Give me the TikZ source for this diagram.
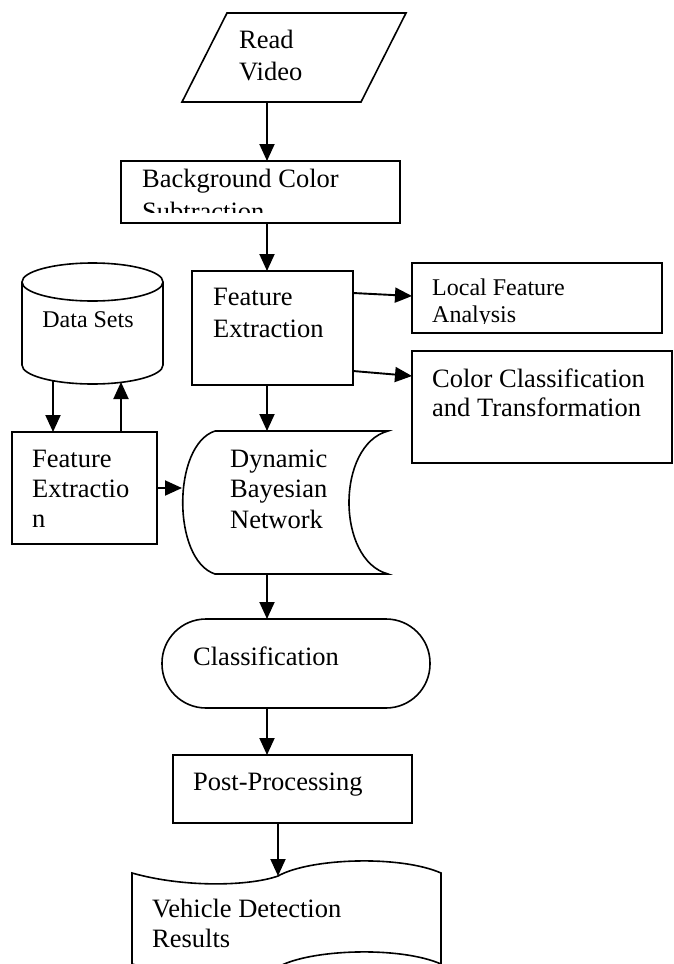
\documentclass[tikz,border=0pt]{standalone}
\usepackage{fontspec}
\setmainfont{Liberation Serif}
\usetikzlibrary{arrows.meta,calc}

\begin{document}
\begin{tikzpicture}[x=1pt,y=-1pt,
        outline/.style={line width=1.6pt},
        arr/.style={line width=1.9pt,-{Triangle[length=17pt,width=15pt]}},
        lbl/.style={anchor=base west,inner sep=0pt,font=\fontsize{26.5}{32}\selectfont},
        smalllbl/.style={anchor=base west,inner sep=0pt,font=\fontsize{24}{27}\selectfont}]
        \useasboundingbox (0,0) rectangle (674,964);
        \clip (0,0) rectangle (674,964);
        \coordinate (RV1) at (182,102); \coordinate (RV2) at (361,102);
        \coordinate (RV3) at (406,13); \coordinate (RV4) at (227,13);
        \draw[outline] (RV1) -- (RV2) -- (RV3) -- (RV4) -- cycle;
        \node[lbl] (readA) at (239,48) {Read};
        \node[lbl] (readB) at (239,80) {Video};
        \coordinate (RVout) at (267,102);
        \coordinate (BG1) at (121,161); \coordinate (BG2) at (400,223);
        \draw[outline] (BG1) rectangle (BG2);
        \node[lbl] (bgA) at (142,187) {Background Color};
        \begin{scope}
            \clip (121,161) rectangle (400,212);
            \node[lbl] (bgB) at (142,220) {Subtraction};
        \end{scope}
        \coordinate (BGin) at (267,161); \coordinate (BGout) at (267,223);
        \coordinate (FE1) at (192,271); \coordinate (FE2) at (353,385);
        \draw[outline] (FE1) rectangle (FE2);
        \node[lbl] (feA) at (213,305) {Feature};
        \node[lbl] (feB) at (213,337) {Extraction};
        \coordinate (FEin) at (267,271); \coordinate (FEout) at (267,385);
        \coordinate (FEr1) at (353,293); \coordinate (FEr2) at (353,371);
        \coordinate (LF1) at (412,263); \coordinate (LF2) at (662,333);
        \draw[outline] (LF1) rectangle (LF2);
        \node[smalllbl] (lfA) at (432,295) {Local Feature};
        \begin{scope}
            \clip (412,263) rectangle (662,323);
            \node[smalllbl] (lfB) at (432,322) {Analysis};
        \end{scope}
        \coordinate (LFin) at (412,296);
        \coordinate (CC1) at (412,351); \coordinate (CC2) at (672,463);
        \draw[outline] (CC1) rectangle (CC2);
        \node[lbl] (ccA) at (432,387) {Color Classification};
        \node[lbl] (ccB) at (432,416) {and Transformation};
        \coordinate (CCin) at (412,376);
        \draw[outline] (22,282) -- (22,365) arc (180:0:70.5 and 19) -- (163,282);
        \draw[outline] (92.5,282) ellipse (70.5 and 19);
        \node[smalllbl,anchor=base] (ds) at (88,327) {Data Sets};
        \coordinate (DSout) at (53,381); \coordinate (DSin) at (121,382);
        \coordinate (LE1) at (12,432); \coordinate (LE2) at (157,544);
        \draw[outline] (LE1) rectangle (LE2);
        \node[lbl] (leA) at (32,467) {Feature};
        \node[lbl] (leB) at (32,497) {Extractio};
        \node[lbl] (leC) at (32,527) {n};
        \coordinate (LEin) at (53,432); \coordinate (LEout) at (121,432);
        \coordinate (LEr) at (157,488);
        \coordinate (DB1) at (215,431); \coordinate (DB2) at (388,431);
        \coordinate (DB3) at (388,574); \coordinate (DB4) at (215,574);
        \draw[outline] (DB1) -- (DB2) .. controls (336,445) and (336,560) .. (DB3)
            -- (DB4) .. controls (172,560) and (172,445) .. (DB1);
        \node[lbl] (dbA) at (230,467) {Dynamic};
        \node[lbl] (dbB) at (230,497) {Bayesian};
        \node[lbl] (dbC) at (230,528) {Network};
        \coordinate (DBin) at (267,431); \coordinate (DBout) at (267,574);
        \coordinate (DBl) at (182,488);
        \draw[outline,rounded corners=44pt] (162,619) rectangle (430,708);
        \node[lbl] (cl) at (193,665) {Classification};
        \coordinate (CLin) at (267,619); \coordinate (CLout) at (267,708);
        \draw[outline] (173,755) rectangle (412,823);
        \node[lbl] (pp) at (193,790) {Post-Processing};
        \coordinate (PPin) at (267,755); \coordinate (PPout) at (278,823);
        \coordinate (VD1) at (132,873); \coordinate (VD2) at (278,876); \coordinate (VD3) at (441,873);
        \draw[outline] (VD1) .. controls (185,888) and (250,886) .. (VD2)
            .. controls (310,858) and (400,855) .. (VD3) -- (441,964)
            .. controls (400,946) and (310,949) .. (278,967)
            .. controls (250,977) and (185,979) .. (132,964) -- cycle;
        \node[lbl] (vdA) at (152,917) {Vehicle Detection};
        \node[lbl] (vdB) at (152,947) {Results};
        \draw[arr] (RVout) -- (BGin);
        \draw[arr] (BGout) -- (FEin);
        \draw[arr] (FEr1) -- (LFin);
        \draw[arr] (FEr2) -- (CCin);
        \draw[arr] (FEout) -- (DBin);
        \draw[arr] (DSout) -- (LEin);
        \draw[arr] (LEout) -- (DSin);
        \draw[arr] (LEr) -- (DBl);
        \draw[arr] (DBout) -- (CLin);
        \draw[arr] (CLout) -- (PPin);
        \draw[arr] (PPout) -- (VD2);
    \end{tikzpicture}
\end{document}
